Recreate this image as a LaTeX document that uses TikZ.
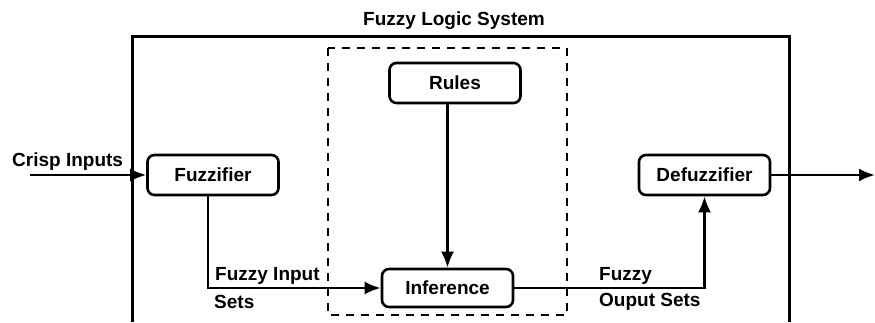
\documentclass[tikz,border=0pt]{standalone}
\usepackage{fontspec}
\setmainfont{Liberation Sans}
\usetikzlibrary{arrows.meta}
\begin{document}
\begin{tikzpicture}[x=1pt,y=-1pt,
  every node/.style={font=\fontsize{19}{21}\selectfont\bfseries},
  block/.style={draw,line width=2.6pt,rounded corners=7pt,minimum width=131pt,minimum height=40pt,inner sep=0pt},
  conn/.style={line width=2.6pt,-{Latex[length=16pt,width=13pt]}},
  lbl/.style={anchor=west,inner sep=0pt}]
\useasboundingbox (0,0) rectangle (875,322);
% system frame, open at the bottom
\draw[line width=3pt] (132,322) -- (132,36) -- (789,36) -- (789,322);
\node (title) at (454,21) {Fuzzy Logic System};
% inference engine region
\draw[line width=2.8pt,dash pattern=on 8pt off 7pt] (328,48) rectangle (567,315);
% blocks
\node[block] (rules) at (455,83) {Rules};
\node[block] (fuzz) at (213,175) {Fuzzifier};
\node[block,minimum height=38pt] (inf) at (447.5,288) {Inference};
\node[block] (defuzz) at (704.5,175) {Defuzzifier};
% inputs and outputs
\coordinate (in) at (30,175);
\coordinate (out) at (875,175);
\draw[conn] (in) -- (fuzz.west);
\node[lbl] (crisp) at (12,162) {Crisp Inputs};
\draw[conn] ([xshift=-5pt]fuzz.south) |- (inf.west);
\node[lbl] (fin) at (215,276) {Fuzzy Input};
\node[lbl] (fsets) at (214,302) {Sets};
\draw[conn] (inf.north |- rules.south) -- (inf.north);
\draw[conn] (inf.east) -| (defuzz.south);
\node[lbl] (fout) at (599,276) {Fuzzy};
\node[lbl] (osets) at (599,302) {Ouput Sets};
\draw[conn] (defuzz.east) -- (out);
\end{tikzpicture}
\end{document}
